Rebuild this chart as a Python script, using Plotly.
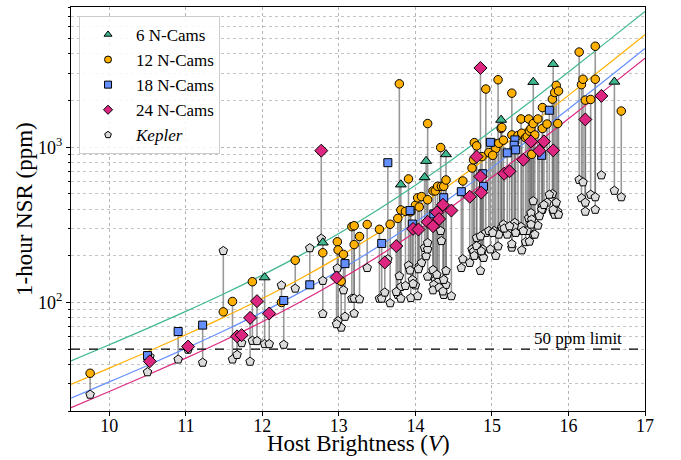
import numpy as np
import plotly.graph_objects as go

# ---------------- model curves ----------------
V_CURVE = [9.5, 10.0, 10.5, 11.0, 11.5, 12.0, 12.5, 13.0, 13.5, 14.0, 14.5, 15.0, 15.5, 16.0, 16.5, 17.0]
NSR_6 = [42.0, 53.4, 68.1, 87.6, 113.8, 150.1, 201.9, 278.0, 392.8, 569.6, 845.6, 1279.6, 1965, 3050, 4768, 7491]
NSR_12 = [29.7, 37.8, 48.2, 61.9, 80.5, 106.1, 142.8, 196.6, 277.8, 402.8, 597.9, 904.8, 1389, 2157, 3371, 5297]
NSR_18 = [24.2, 30.8, 39.3, 50.6, 65.7, 86.7, 116.6, 160.5, 226.8, 328.9, 488.2, 738.8, 1134, 1761, 2753, 4325]
NSR_24 = [21.0, 26.7, 34.1, 43.8, 56.9, 75.1, 101.0, 139.0, 196.4, 284.8, 422.8, 639.8, 982.5, 1525, 2384, 3746]

LIMIT = 50

# ---------------- systems: host V, N-Cams NSR, Kepler NSR ----------------
V_6 = [12.03, 12.79, 13.81, 14.12, 14.14, 14.40, 15.12, 15.54, 15.80, 16.60]
CAM_6 = [145, 243, 575, 640, 815, 900, 1500, 2630, 3430, 2640]
KEP_6 = [54, 138, 126, 225, 199, 160, 295, 274, 385, 525]

V_12 = [9.75, 11.49, 11.61, 11.87, 12.25, 12.43, 12.79, 12.98, 12.99, 13.03, 13.06, 13.17, 13.20, 13.20,
        13.27, 13.37, 13.53, 13.67, 13.77, 13.79, 13.81, 13.87, 13.91, 13.94, 14.00, 14.03, 14.05, 14.08,
        14.16, 14.16, 14.23, 14.26, 14.29, 14.33, 14.34, 14.37, 14.40, 14.62, 14.74, 14.76, 14.77, 14.80,
        14.87, 14.92, 14.96, 15.03, 15.05, 15.08, 15.12, 15.13, 15.09, 15.15, 15.01, 15.26, 15.26, 15.34,
        15.38, 15.39, 15.44, 15.46, 15.48, 15.49, 15.51, 15.52, 15.54, 15.56, 15.60, 15.66, 15.66, 15.72,
        15.79, 15.82, 15.84, 15.86, 15.87, 16.14, 16.17, 16.19, 16.22, 16.29, 16.35, 16.35, 16.69]
CAM_12 = [35, 87, 101.5, 136, 100, 187, 209, 246, 218, 137, 204, 308, 312, 236,
          266, 318, 296, 319, 348, 2560, 394, 386, 625, 384, 423, 472, 412, 481,
          1420, 459, 523, 523, 560, 995, 560, 560, 615, 606, 735, 830, 1070, 1020,
          870, 2370, 925, 1060, 980, 2720, 1320, 1340, 1060, 1110, 887, 2230, 1200, 1190,
          1520, 1230, 1150, 1170, 1520, 1270, 1320, 900, 1420, 1200, 1520, 1800, 1320, 1410,
          2040, 2250, 2500, 1420, 2300, 4100, 2530, 2740, 2010, 2030, 4470, 2740, 1710]
KEP_12 = [25.5, 215, 43, 56.7, 129, 123, 84.5, 166, 76, 69, 120, 106, 106, 85,
          105, 167, 106, 99, 112, 148, 106, 128, 173, 107, 129, 110, 171, 180,
          220, 242, 162, 140, 135, 289, 249, 112, 130, 190, 220, 213, 200, 231,
          200, 281, 289, 289, 200, 230, 289, 305, 274, 318, 281, 226, 238, 289,
          307, 217, 245, 289, 350, 247, 377, 342, 450, 274, 313, 396, 415, 440,
          500, 368, 440, 385, 368, 617, 470, 595, 440, 495, 396, 477, 477]

V_18 = [10.50, 10.90, 11.22, 12.28, 12.62, 13.08, 13.56, 13.64, 13.93, 13.96, 14.24, 14.37, 14.60,
        14.88, 14.89, 14.98, 15.20, 15.30, 15.29, 15.31, 15.65, 15.75]
CAM_18 = [45.5, 65, 71.5, 103, 130, 178, 240, 795, 391, 320, 372, 473, 517,
          675, 560, 1075, 920, 1115, 1030, 962, 887, 1730]
KEP_18 = [35.6, 43, 41, 53.5, 224, 81, 106, 190, 161, 140, 130, 140, 167,
          220, 194, 220, 274, 326, 307, 281, 396, 495]

V_24 = [10.53, 11.03, 11.67, 11.73, 11.84, 11.93, 12.09, 12.77, 12.97, 13.60, 13.75, 13.97, 14.04,
        14.16, 14.23, 14.28, 14.31, 14.36, 14.47, 14.71, 14.80, 14.85, 14.85, 14.86, 15.16, 15.23,
        15.41, 15.51, 15.62, 15.68, 15.80, 16.22, 16.43]
CAM_24 = [41.8, 52, 60.5, 61.6, 79.6, 102, 85, 950, 145, 181, 231, 298, 295,
          331, 310, 381, 345, 426, 391, 480, 870, 3240, 647, 510, 675, 700,
          830, 1090, 950, 1090, 955, 1510, 2140]
KEP_24 = [44.8, 49.7, 46, 54.8, 41.6, 56.5, 54, 258, 72.6, 116, 117, 132, 164,
          147, 120, 151, 125, 118, 110, 180, 261, 267, 160, 214, 300, 310,
          289, 318, 360, 425, 396, 385, 660]

GROUPS = [
    ("6 N-Cams", V_6, CAM_6, KEP_6, NSR_6, "#3fb890", "triangle-up", 9.5),
    ("12 N-Cams", V_12, CAM_12, KEP_12, NSR_12, "#FFB000", "circle", 8.5),
    ("18 N-Cams", V_18, CAM_18, KEP_18, NSR_18, "#648FFF", "square", 8),
    ("24 N-Cams", V_24, CAM_24, KEP_24, NSR_24, "#DC267F", "diamond", 10),
]

FONT = "Liberation Serif"
fig = go.Figure()

# connecting lines
lx, ly = [], []
for _, vs, cams, keps, *_ in GROUPS:
    for v, c, k in zip(vs, cams, keps):
        lx += [v, v, None]
        ly += [c, k, None]
fig.add_trace(go.Scatter(x=lx, y=ly, mode="lines", line=dict(color="rgba(110,110,110,0.7)", width=1.6),
                         showlegend=False, hoverinfo="skip"))

# model curves
for name, vs, cams, keps, curve, col, sym, sz in GROUPS:
    fig.add_trace(go.Scatter(x=V_CURVE, y=curve, mode="lines", line=dict(color=col, width=1.2, shape="spline"),
                             showlegend=False, hoverinfo="skip"))

# 50 ppm limit
fig.add_trace(go.Scatter(x=[9.5, 17], y=[LIMIT, LIMIT], mode="lines",
                         line=dict(color="black", width=1.2, dash="dash"), showlegend=False, hoverinfo="skip"))

# Kepler points
kv, kn = [], []
for _, vs, cams, keps, *_ in GROUPS:
    kv += vs
    kn += keps
fig.add_trace(go.Scatter(x=kv, y=kn, mode="markers",
                         marker=dict(symbol="pentagon", size=9, color="#dcdcdc", line=dict(color="black", width=1)),
                         showlegend=False))

# N-Cams points
for name, vs, cams, keps, curve, col, sym, sz in GROUPS:
    fig.add_trace(go.Scatter(x=vs, y=cams, mode="markers",
                             marker=dict(symbol=sym, size=sz, color=col, line=dict(color="black", width=1)),
                             showlegend=False))

# legend-only entries
for i, (name, vs, cams, keps, curve, col, sym, sz) in enumerate(GROUPS):
    fig.add_trace(go.Scatter(x=[None], y=[None], mode="markers", name=name, legendgroup=str(i),
                             marker=dict(symbol=sym, size=7, color=col, line=dict(color="black", width=1))))
fig.add_trace(go.Scatter(x=[None], y=[None], mode="markers", name="<i>Kepler</i>", legendgroup="k",
                         marker=dict(symbol="pentagon", size=7, color="#dcdcdc", line=dict(color="black", width=1))))

fig.add_annotation(x=16.72, y=np.log10(LIMIT), xref="x", yref="y", text="50 ppm limit", showarrow=False,
                   xanchor="right", yanchor="bottom", yshift=-1, font=dict(family=FONT, size=17, color="black"))

# axis titles placed as annotations relative to the plot area
fig.add_annotation(x=0.5, y=0, xref="paper", yref="paper", text="Host Brightness (<i>V</i>)", showarrow=False,
                   xanchor="center", yanchor="middle", yshift=-32, font=dict(family=FONT, size=23, color="black"))
fig.add_annotation(x=0, y=0.5, xref="paper", yref="paper", text="1-hour NSR (ppm)", showarrow=False,
                   textangle=-90, xanchor="center", yanchor="middle", xshift=-47,
                   font=dict(family=FONT, size=23, color="black"))

minor_vals = [m * 10 ** e for e in (1, 2, 3) for m in range(2, 10) if 20 <= m * 10 ** e <= 8000]

fig.update_layout(
    width=681, height=460,
    margin=dict(l=71, r=36, t=7, b=49),
    plot_bgcolor="white", paper_bgcolor="white",
    font=dict(family=FONT, size=17, color="black"),
    legend=dict(x=0.014, y=0.978, xanchor="left", yanchor="top", bgcolor="rgba(255,255,255,0.85)",
                bordercolor="#cccccc", borderwidth=1, font=dict(family=FONT, size=17), tracegroupgap=0,
                itemwidth=46),
    xaxis=dict(range=[9.5, 17], tick0=10, dtick=1, showline=True, linecolor="black", linewidth=1, mirror=True,
               ticks="outside", ticklen=4, tickcolor="black", showgrid=True, gridcolor="#b5b5b5",
               griddash="dot", gridwidth=1, zeroline=False, automargin=False, ticklabelstandoff=-6,
               tickfont=dict(family=FONT, size=18)),
    yaxis=dict(type="log", range=[np.log10(20), np.log10(8000)], tickmode="array", tickvals=[100, 1000],
               ticktext=["10<sup>2</sup>", "10<sup>3</sup>"], showline=True, linecolor="black", linewidth=1,
               mirror=True, ticks="outside", ticklen=4, tickcolor="black", showgrid=True, gridcolor="#b5b5b5",
               griddash="dot", gridwidth=1, zeroline=False, automargin=False,
               tickfont=dict(family=FONT, size=18),
               minor=dict(tickmode="array", tickvals=minor_vals, ticks="outside", ticklen=2, tickcolor="black",
                          showgrid=True, gridcolor="#c5c5c5", griddash="dot", gridwidth=1)),
)

fig.write_html("out.html", config={"displayModeBar": False},
               post_script="document.body.style.margin='0';document.body.style.overflow='hidden';")
